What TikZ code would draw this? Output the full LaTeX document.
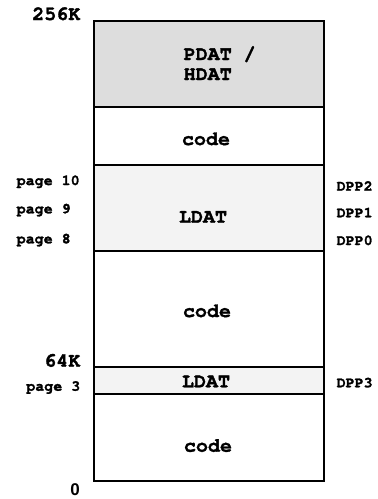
\documentclass[tikz,border=0pt]{standalone}
\usepackage{fontspec}
\setmainfont{TeX Gyre Cursor}[BoldFeatures={FakeBold=1.6}]
\newfontfamily\sansbold{Liberation Sans}
\definecolor{hdatgray}{RGB}{221,221,221}
\definecolor{ldatgray}{RGB}{243,243,243}
\begin{document}
\begin{tikzpicture}[x=1pt,y=-1pt,
  region/.style={draw=black,line width=2pt},
  bigtxt/.style={inner sep=0pt,font=\fontsize{20}{20}\selectfont\bfseries,anchor=base},
  pagetxt/.style={inner sep=0pt,font=\fontsize{15}{15}\selectfont\bfseries},
  dpptxt/.style={inner sep=0pt,font=\fontsize{15}{15}\selectfont\bfseries,anchor=base west},
  addrtxt/.style={inner sep=0pt,font=\fontsize{20}{20}\selectfont\bfseries,anchor=base east}]
\useasboundingbox (0,0) rectangle (378,499);
% regions
\filldraw[region,fill=hdatgray] (93.5,21) rectangle (323.5,106.5);
\draw[region] (93.5,106.5) rectangle (323.5,164.5);
\filldraw[region,fill=ldatgray] (93.5,164.5) rectangle (323.5,250.5);
\draw[region] (93.5,250.5) rectangle (323.5,366.5);
\filldraw[region,fill=ldatgray] (93.5,366.5) rectangle (323.5,394);
\draw[region] (93.5,394) rectangle (323.5,481);
% region texts
\node[bigtxt,anchor=base west] (pdat) at (183.5,60) {PDAT /};
\node[bigtxt,anchor=base west] (hdat) at (183.5,80) {HDAT};
\node[bigtxt] (code1) at (206,145) {code};
\node[bigtxt] (ldat1) at (203,222.7) {LDAT};
\node[bigtxt] (code2) at (207,317) {code};
\node[bigtxt] (ldat2) at (206,387.3) {LDAT};
\node[bigtxt] (code3) at (208,451.7) {code};
% address labels
\node[addrtxt] (a256) at (80.5,20) {256K};
\node[addrtxt] (a64) at (80.5,366.7) {64K};
\node[inner sep=0pt,anchor=base east,font=\fontsize{17}{17}\selectfont\sansbold\bfseries] (a0) at (80,495.5) {0};
% page labels
\node[pagetxt,anchor=base west] (p10) at (16.5,185) {page 10};
\node[pagetxt,anchor=base west] (p9) at (16.5,213.3) {page 9};
\node[pagetxt,anchor=base west] (p8) at (16.5,243.3) {page 8};
\node[pagetxt,anchor=base east] (p3) at (80.5,390.7) {page 3};
% DPP labels
\node[dpptxt] (dpp2) at (336.5,190.7) {DPP2};
\node[dpptxt] (dpp1) at (336.5,217.3) {DPP1};
\node[dpptxt] (dpp0) at (336.5,245) {DPP0};
\node[dpptxt] (dpp3) at (336.5,387.3) {DPP3};
\end{tikzpicture}
\end{document}
